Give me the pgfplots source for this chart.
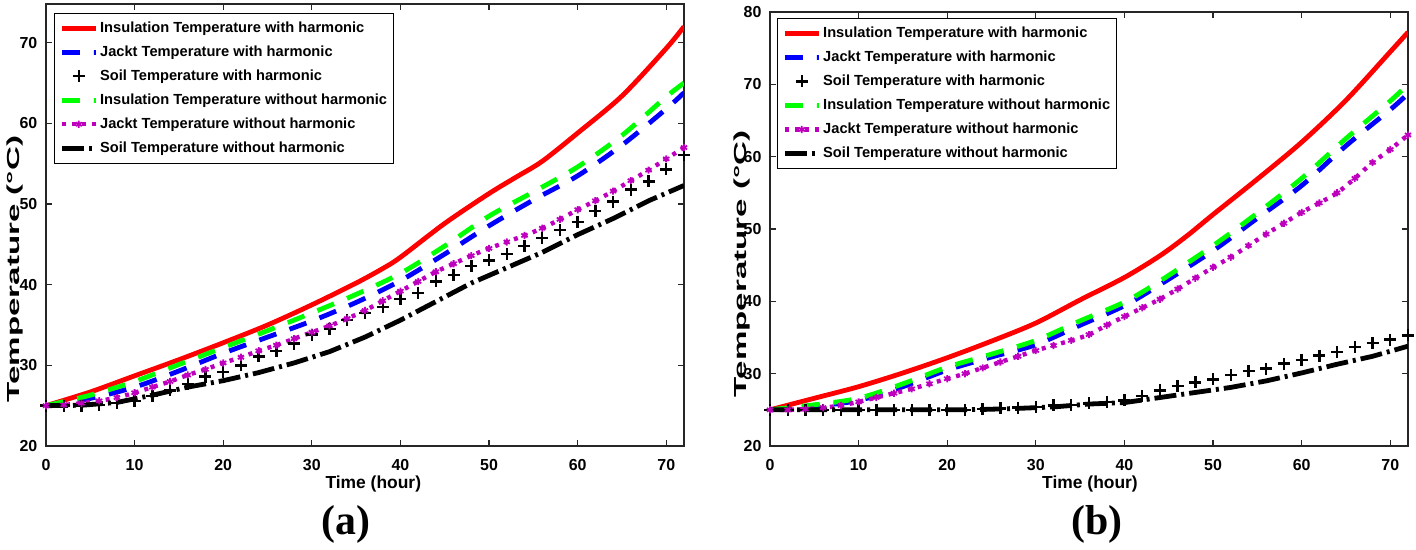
\documentclass[border=0pt]{standalone}
\usepackage{pgfplots}
\pgfplotsset{compat=1.18}
\usepackage{fontspec}
\setmainfont{Liberation Sans}
\newfontfamily\timesfont{Liberation Serif}
\definecolor{mred}{rgb}{1,0,0}
\definecolor{mblue}{rgb}{0,0,1}
\definecolor{mgreen}{rgb}{0,1,0}
\definecolor{mmag}{RGB}{190,0,190}
\pgfplotsset{
  myax/.style={
    scale only axis, width=319bp, anchor=south west,
    xmin=0, xmax=72, xtick={0,10,...,70},
    tick align=inside, major tick length=3bp,
    axis line style={line width=0.8bp, black!85},
    every tick/.style={black!85, line width=0.6bp},
    tick label style={font=\fontsize{8}{9}\selectfont\bfseries},
    /pgf/number format/assume math mode=true,
    xticklabel style={yshift=-3.3bp},
    yticklabel style={xshift=-0.8bp},
    label style={font=\fontsize{8.75}{10}\selectfont\bfseries},
    xlabel={Time (hour)},
    ylabel={\scalebox{1.9}[1]{Temperature (°C)}},
    legend cell align=left,
    legend style={font=\fontsize{7.35}{8}\selectfont\bfseries, draw=black, anchor=north west,
      inner xsep=2.5bp, inner ysep=3.5bp, row sep=4bp,
      nodes={inner sep=0.5bp, text height=5.5bp, text depth=1.5bp},
      /tikz/every odd column/.append style={column sep=0.5bp}},
    legend image code/.code={\draw[mark repeat=2,mark phase=2,##1] plot coordinates {(0bp,0bp) (8.5bp,0bp) (17bp,0bp)};},
  },
  pInsH/.style={mred, line width=2.4bp, smooth},
  pJacH/.style={mblue, line width=2.4bp, dash pattern=on 9bp off 7bp, smooth},
  pSoilH/.style={black, only marks, mark=+, mark size=3bp, mark options={line width=1.2bp}},
  pInsN/.style={mgreen, line width=2.4bp, dash pattern=on 9bp off 7bp, smooth},
  pJacN/.style={mmag, line width=2.2bp, dash pattern=on 2bp off 3bp, smooth, mark=asterisk, mark size=1.8bp, mark options={solid, line width=0.9bp}},
  pSoilN/.style={black, line width=2.4bp, dash pattern=on 11bp off 2.5bp on 1.5bp off 2.5bp},
}
\begin{document}
\begin{tikzpicture}
\path[use as bounding box] (0,0) rectangle (708bp,275bp);
% ---------------- (a) ----------------
\begin{axis}[myax, at={(23bp,52bp)}, height=221bp, ymin=20, ymax=74.8, ytick={20,30,...,70},
  legend style={at={(0.0125,0.98)}},
  xlabel style={at={(axis description cs:0.513,0)}, anchor=center, yshift=-18.8bp},
  ylabel style={at={(axis description cs:-0.0486,0.40)}, anchor=center}]
\addplot[pInsH] coordinates {(0,25)(5,26.7)(10,28.7)(15,30.7)(20,32.8)(25,35)(30,37.5)(35,40.2)(38,42)(40,43.4)(45,47.6)(50,51.3)(53,53.3)(56,55.3)(60,58.8)(65,63.4)(70,69.3)(72,72)};
\addlegendentry{Insulation Temperature with harmonic}
\addplot[pJacH] coordinates {(0,25)(5,25.9)(10,27.3)(15,29.3)(20,31.5)(25,33.5)(30,35.5)(35,37.8)(40,40.5)(45,43.8)(50,47.3)(55,50.5)(60,53.5)(65,57.3)(70,61.8)(72,63.8)};
\addlegendentry{Jackt Temperature with harmonic}
\addplot[pSoilH] coordinates {(0,25)(2,25)(4,25)(6,25.1)(8,25.3)(10,25.6)(12,26.2)(14,26.9)(16,27.7)(18,28.6)(20,29.2)(22,30)(24,31.1)(26,31.8)(28,32.7)(30,33.8)(32,34.5)(34,35.6)(36,36.5)(38,37.2)(40,38.2)(42,39)(44,40.4)(46,41.2)(48,42.3)(50,43)(52,43.8)(54,44.8)(56,45.8)(58,46.8)(60,47.8)(62,49.1)(64,50.3)(66,51.8)(68,52.8)(70,54.3)(72,56.1)};
\addlegendentry{Soil Temperature with harmonic}
\addplot[pInsN] coordinates {(0,25)(5,26.3)(10,28)(15,30.1)(20,32.2)(25,34.3)(30,36.5)(35,38.8)(40,41.4)(45,44.8)(50,48.5)(55,51.5)(60,54.6)(65,58.5)(70,63.3)(72,65)};
\addlegendentry{Insulation Temperature without harmonic}
\addplot[pJacN] coordinates {(0,25)(2,25.1)(4,25.3)(6,25.6)(8,26)(10,26.6)(12,27.3)(14,28)(16,28.8)(18,29.5)(20,30.3)(22,31)(24,31.8)(26,32.5)(28,33.3)(30,34.1)(32,34.9)(34,35.8)(36,36.8)(38,38)(40,39.2)(42,40.4)(44,41.6)(46,42.6)(48,43.6)(50,44.5)(52,45.3)(54,46.1)(56,47)(58,48.1)(60,49.3)(62,50.4)(64,51.6)(66,52.9)(68,54.2)(70,55.6)(72,57)};
\addlegendentry{Jackt Temperature without harmonic}
\addplot[pSoilN] coordinates {(0,25)(4,25.05)(8,25.4)(12,26.3)(16,27.3)(20,28.1)(24,29.1)(28,30.3)(32,31.7)(36,33.5)(40,35.6)(44,37.9)(48,40.2)(52,42.1)(56,44)(60,46.2)(64,48.2)(68,50.4)(72,52.3)};
\addlegendentry{Soil Temperature without harmonic}
\end{axis}
% ---------------- (b) ----------------
\begin{axis}[myax, at={(385bp,52bp)}, height=217bp, ymin=20, ymax=80, ytick={20,30,...,80},
  legend style={at={(0.011,0.986)}},
  xlabel style={at={(axis description cs:0.5016,0)}, anchor=center, yshift=-18.8bp},
  ylabel style={at={(axis description cs:-0.0439,0.42)}, anchor=center}]
\addplot[pInsH] coordinates {(0,25)(5,26.6)(10,28.2)(15,30.1)(20,32.2)(25,34.5)(30,37)(35,40.2)(40,43.3)(44,46.3)(47,49)(50,52)(55,56.9)(60,62)(65,67.8)(70,74.5)(72,77.2)};
\addlegendentry{Insulation Temperature with harmonic}
\addplot[pJacH] coordinates {(0,25)(5,25.5)(10,26.3)(15,28.2)(20,30.5)(25,32.3)(30,34)(35,36.7)(40,39.4)(44,42.3)(50,47)(55,51.5)(60,56)(65,61.5)(70,66.5)(72,68.7)};
\addlegendentry{Jackt Temperature with harmonic}
\addplot[pSoilH] coordinates {(0,25)(2,25)(4,25)(6,25)(8,25)(10,25)(12,25)(14,25)(16,25)(18,25)(20,25)(22,25)(24,25.1)(26,25.2)(28,25.3)(30,25.4)(32,25.6)(34,25.7)(36,25.9)(38,26.1)(40,26.3)(42,26.9)(44,27.7)(46,28.3)(48,28.8)(50,29.2)(52,29.8)(54,30.4)(56,30.7)(58,31.4)(60,31.9)(62,32.5)(64,33)(66,33.7)(68,34.2)(70,34.7)(72,35.3)};
\addlegendentry{Soil Temperature with harmonic}
\addplot[pInsN] coordinates {(0,25)(5,25.7)(10,26.6)(15,28.6)(20,30.9)(25,32.7)(30,34.6)(35,37.3)(40,39.9)(44,42.8)(50,47.7)(55,52.2)(60,57)(65,62.5)(70,67.7)(72,70)};
\addlegendentry{Insulation Temperature without harmonic}
\addplot[pJacN] coordinates {(0,25)(2,25)(4,25.1)(6,25.3)(8,25.6)(10,26.1)(12,26.7)(14,27.3)(16,27.9)(18,28.6)(20,29.3)(22,30)(24,30.8)(26,31.6)(28,32.4)(30,33.2)(32,33.9)(34,34.6)(36,35.4)(38,36.7)(40,37.9)(42,39.1)(44,40.3)(46,41.7)(48,43.2)(50,44.7)(52,46.1)(54,47.7)(56,49.3)(58,50.8)(60,52.3)(62,53.6)(64,55)(66,57)(68,59.2)(70,61)(72,63)};
\addlegendentry{Jackt Temperature without harmonic}
\addplot[pSoilN] coordinates {(0,25)(4,25)(8,25)(12,25)(16,25)(20,25)(24,25.05)(28,25.2)(32,25.4)(36,25.8)(40,26)(44,26.7)(48,27.4)(52,28.1)(56,29)(60,30.1)(64,31.3)(68,32.4)(72,33.8)};
\addlegendentry{Soil Temperature without harmonic}
\end{axis}
\node[font=\timesfont\bfseries\fontsize{21}{24}\selectfont] at (173bp,13bp) {(a)};
\node[font=\timesfont\bfseries\fontsize{21}{24}\selectfont] at (548.5bp,13bp) {(b)};
\end{tikzpicture}
\end{document}
